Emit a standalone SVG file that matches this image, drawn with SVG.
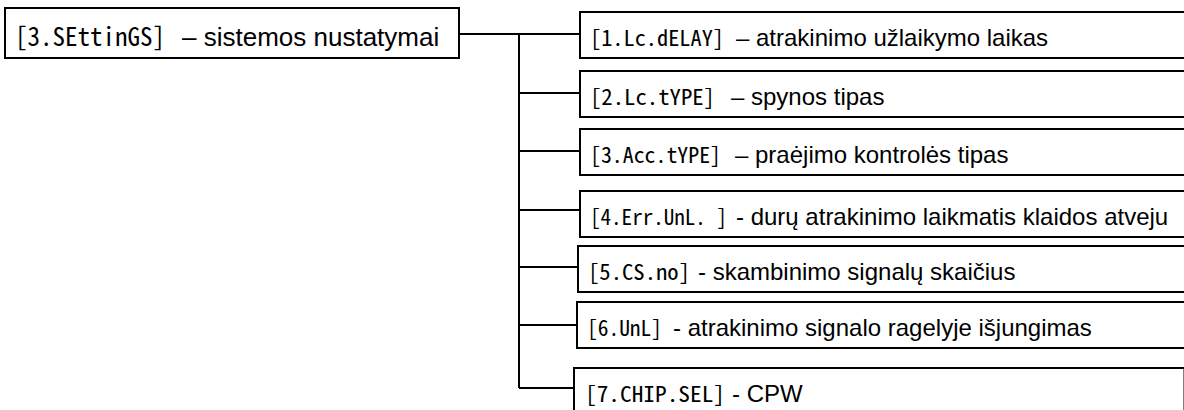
<svg xmlns="http://www.w3.org/2000/svg" width="1184" height="410" viewBox="0 0 1184 410">
<style>
  .box { fill: #ffffff; stroke: #000000; stroke-width: 2; }
  .wire { fill: none; stroke: #000000; stroke-width: 2; }
  .code { font-family: "Noto Sans CJK JP", "DejaVu Sans Mono", monospace; font-feature-settings: "hwid" 1; fill: #000000; }
  .lbl { font-family: "Liberation Sans", Arial, sans-serif; fill: #000000; }
  .big { font-size: 26px; }
  .sm { font-size: 24px; }
  .csm { font-size: 22px; }
</style>
<rect x="0" y="0" width="1184" height="410" fill="#ffffff"/>
<g id="connectors">
  <path class="wire" d="M459,34 H580"/>
  <path class="wire" d="M519,34 V388"/>
  <path class="wire" d="M519,93 H580"/>
  <path class="wire" d="M519,151 H580"/>
  <path class="wire" d="M519,210 H580"/>
  <path class="wire" d="M519,267 H578"/>
  <path class="wire" d="M519,325 H577"/>
  <path class="wire" d="M519,388 H574"/>
</g>
<g id="node-settings">
  <rect class="box" x="5" y="8" width="454" height="50"/>
  <text class="code big" x="15" y="46" textLength="150" lengthAdjust="spacingAndGlyphs">[3.SEttinGS]</text>
  <text class="lbl big" x="182" y="46">– sistemos nustatymai</text>
</g>
<g id="node-1">
  <rect class="box" x="580" y="12" width="620" height="46"/>
  <text class="code csm" x="590" y="46" textLength="134" lengthAdjust="spacingAndGlyphs">[1.Lc.dELAY]</text>
  <text class="lbl sm" x="736" y="46">– atrakinimo užlaikymo laikas</text>
</g>
<g id="node-2">
  <rect class="box" x="580" y="71" width="620" height="46"/>
  <text class="code csm" x="590" y="105" textLength="125" lengthAdjust="spacingAndGlyphs">[2.Lc.tYPE]</text>
  <text class="lbl sm" x="731" y="105">– spynos tipas</text>
</g>
<g id="node-3">
  <rect class="box" x="580" y="129" width="620" height="46"/>
  <text class="code csm" x="590" y="163" textLength="131" lengthAdjust="spacingAndGlyphs">[3.Acc.tYPE]</text>
  <text class="lbl sm" x="735" y="163">– praėjimo kontrolės tipas</text>
</g>
<g id="node-4">
  <rect class="box" x="580" y="191" width="620" height="46"/>
  <text class="code csm" x="590" y="225" textLength="137" lengthAdjust="spacingAndGlyphs">[4.Err.UnL. ]</text>
  <text class="lbl sm" x="736" y="225">- durų atrakinimo laikmatis klaidos atveju</text>
</g>
<g id="node-5">
  <rect class="box" x="578" y="246" width="620" height="46"/>
  <text class="code csm" x="588" y="280" textLength="102" lengthAdjust="spacingAndGlyphs">[5.CS.no]</text>
  <text class="lbl sm" x="698" y="280">- skambinimo signalų skaičius</text>
</g>
<g id="node-6">
  <rect class="box" x="577" y="302" width="620" height="46"/>
  <text class="code csm" x="587" y="336" textLength="75" lengthAdjust="spacingAndGlyphs">[6.UnL]</text>
  <text class="lbl sm" x="673" y="336">- atrakinimo signalo ragelyje išjungimas</text>
</g>
<g id="node-7">
  <rect class="box" x="574" y="368" width="610.5" height="60"/>
  <text class="code csm" x="585" y="402" textLength="140" lengthAdjust="spacingAndGlyphs">[7.CHIP.SEL]</text>
  <text class="lbl sm" x="732" y="402">- CPW</text>
</g>
</svg>
